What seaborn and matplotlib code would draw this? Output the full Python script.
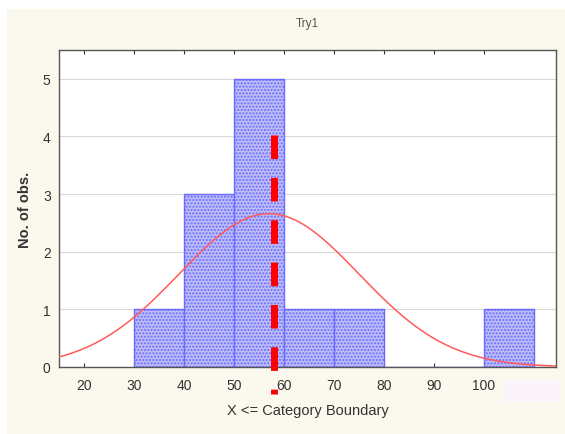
import numpy as np
import matplotlib
matplotlib.use("Agg")
import matplotlib.pyplot as plt
import seaborn as sns
from matplotlib.patches import Rectangle

# histogram data
bin_edges = [30, 40, 50, 60, 70, 80, 90, 100, 110]
counts = [1, 3, 5, 1, 1, 0, 0, 1]
bin_mids = [35, 45, 55, 65, 75, 85, 95, 105]

# fitted normal curve and the marker line
fit_mean = 57.0
fit_sd = 18.0
n_obs = 12
marker_x = 57.9
marker_top = 4.02
marker_bottom = -0.47

sns.set_style("white")
plt.rcParams['font.family'] = ['Liberation Sans', 'DejaVu Sans']

fig = plt.figure(figsize=(5.65, 4.35), dpi=100, facecolor='white')
# cream panel behind the chart
fig.patches.append(Rectangle((7 / 565, 0), 1, 1 - 10 / 435, transform=fig.transFigure,
                             facecolor='#fbf8ee', edgecolor='none', zorder=-10))
fig.patches.append(Rectangle((503 / 565, 1 - 403 / 435), 57 / 565, 23 / 435,
                             transform=fig.transFigure, facecolor='#fbf4fb',
                             edgecolor='none', zorder=-9))

ax = fig.add_axes([59 / 565, 1 - 368 / 435, (556 - 59) / 565, (368 - 51) / 435])
ax.set_facecolor('white')

sns.histplot(x=bin_mids, weights=counts, bins=bin_edges, ax=ax,
             color='#bdbdf9', alpha=1, edgecolor='#6a6aff', linewidth=1,
             hatch='.....', zorder=2)

xs = np.linspace(14, 116, 300)
binw = bin_edges[1] - bin_edges[0]
ys = n_obs * binw / (fit_sd * np.sqrt(2 * np.pi)) * np.exp(-0.5 * ((xs - fit_mean) / fit_sd) ** 2)
sns.lineplot(x=xs, y=ys, ax=ax, color='#ff5a5a', linewidth=1.1, zorder=4)

# drawn from the top down so the dash pattern starts at the top
ax.plot([marker_x, marker_x], [marker_top, marker_bottom], color='red', linewidth=5,
        linestyle=(0, (3.4, 2.7)), solid_capstyle='butt', dash_capstyle='butt',
        clip_on=False, zorder=5)

ax.set_xlim(15, 114.4)
ax.set_ylim(0, 5.5)
ax.set_xticks([20, 30, 40, 50, 60, 70, 80, 90, 100])
ax.set_yticks([0, 1, 2, 3, 4, 5])
ax.yaxis.grid(True, color='#d8d8d8', linewidth=0.8, zorder=0)
ax.set_axisbelow(True)
ax.tick_params(axis='both', labelsize=10, colors='#333333', direction='in', length=3)
ax.tick_params(axis='x', top=True, bottom=True, pad=8)
ax.tick_params(axis='y', left=False, pad=6)
for s in ax.spines.values():
    s.set_color('#555555')
    s.set_linewidth(1)

ax.set_title('Try1', fontsize=8.5, color='#555555', pad=17)
ax.set_xlabel('X <= Category Boundary', fontsize=10.5, color='#333333', labelpad=8)
ax.set_ylabel('No. of obs.', fontsize=10.5, fontweight='bold', color='#333333', labelpad=8)

fig.savefig('out.png', dpi=100, facecolor=fig.get_facecolor())
